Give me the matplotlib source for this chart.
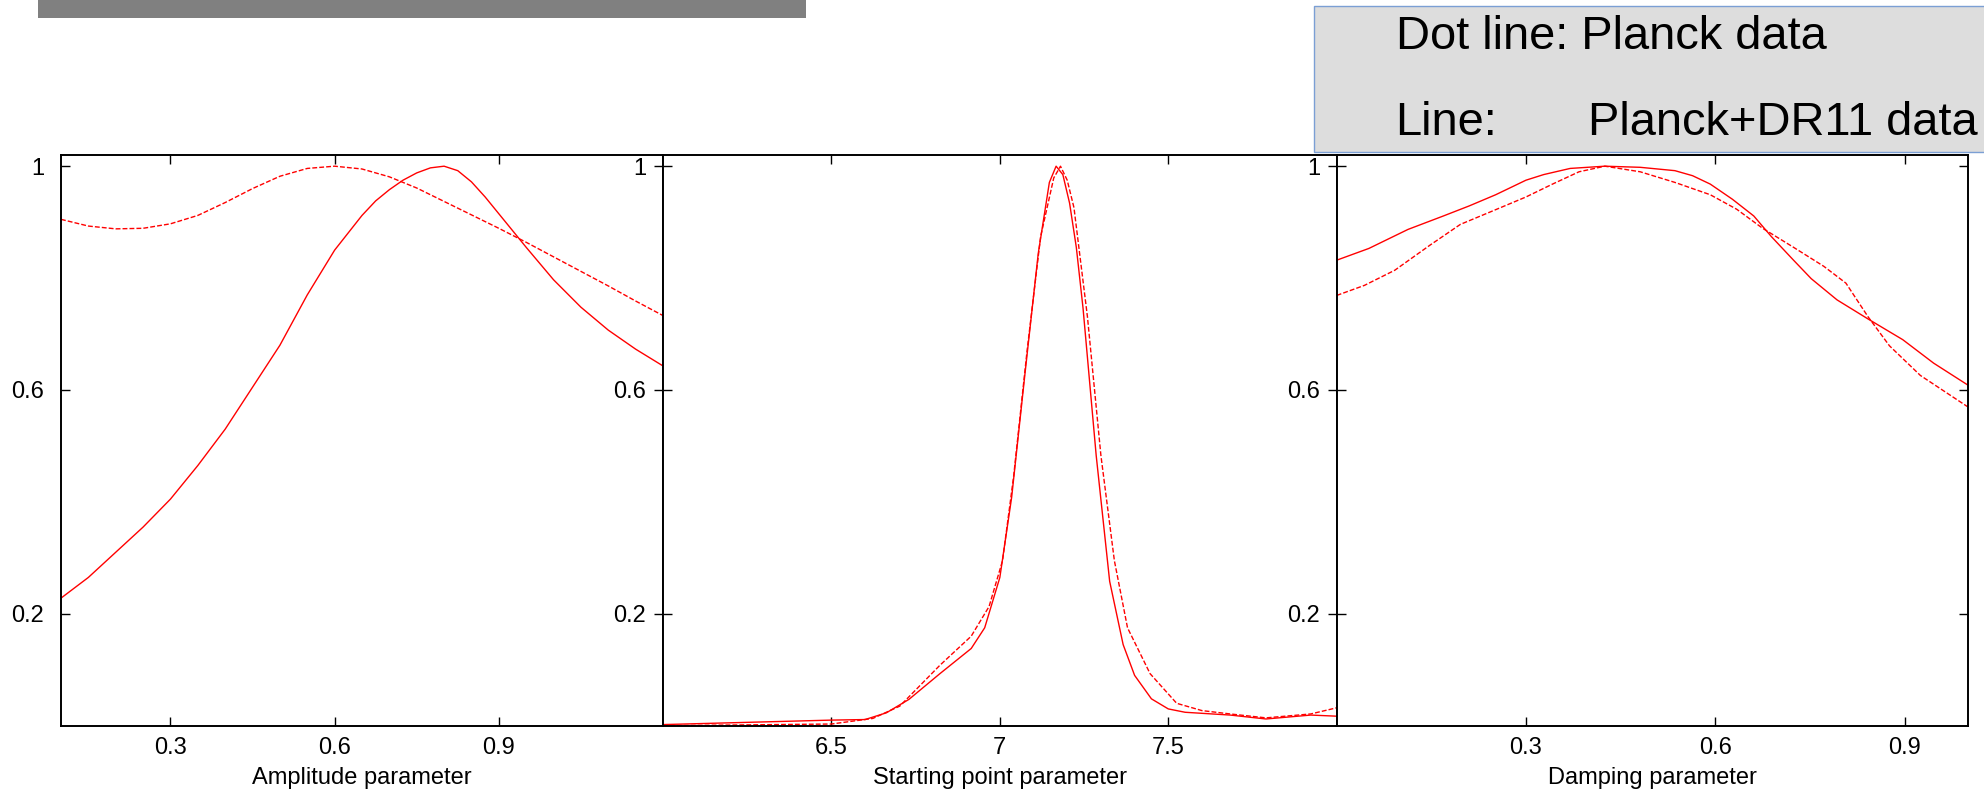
import matplotlib
matplotlib.use("Agg")
import matplotlib.pyplot as plt
from matplotlib.patches import Rectangle

plt.rcParams['font.family'] = ['Liberation Sans', 'DejaVu Sans']

# amplitude parameter
amp_dr11_x = [0.10, 0.15, 0.20, 0.25, 0.30, 0.35, 0.40, 0.45, 0.50, 0.55, 0.60, 0.65, 0.675, 0.70,
              0.725, 0.75, 0.775, 0.80, 0.825, 0.85, 0.875, 0.90, 0.925, 0.95, 1.00, 1.05, 1.10,
              1.15, 1.20]
amp_dr11 = [0.228, 0.265, 0.31, 0.355, 0.405, 0.465, 0.53, 0.605, 0.68, 0.77, 0.85, 0.912, 0.938,
            0.958, 0.975, 0.988, 0.997, 1.0, 0.992, 0.972, 0.945, 0.915, 0.885, 0.855, 0.797,
            0.748, 0.707, 0.673, 0.643]
amp_planck_x = [0.10, 0.15, 0.20, 0.25, 0.30, 0.35, 0.40, 0.45, 0.50, 0.55, 0.60, 0.65, 0.70,
                0.75, 0.80, 0.85, 0.90, 0.95, 1.00, 1.05, 1.10, 1.15, 1.20]
amp_planck = [0.905, 0.893, 0.888, 0.889, 0.897, 0.912, 0.935, 0.96, 0.982, 0.996, 1.0, 0.995, 0.981,
              0.961, 0.937, 0.913, 0.889, 0.864, 0.838, 0.812, 0.786, 0.759, 0.733]

# starting point parameter
start_dr11_x = [6.0, 6.5, 6.6, 6.663, 6.73, 6.822, 6.915, 6.955, 7.0, 7.035, 7.074, 7.114, 7.147,
                7.167, 7.187, 7.207, 7.227, 7.247, 7.286, 7.326, 7.366, 7.40, 7.45, 7.5, 7.55,
                7.684, 7.79, 7.923, 8.0]
start_dr11 = [0.002, 0.01, 0.011, 0.023, 0.047, 0.093, 0.138, 0.175, 0.265, 0.408, 0.626, 0.844,
              0.971, 1.0, 0.985, 0.934, 0.855, 0.746, 0.483, 0.258, 0.145, 0.09, 0.048, 0.03,
              0.024, 0.019, 0.012, 0.019, 0.017]
start_planck_x = [6.0, 6.5, 6.623, 6.703, 6.822, 6.915, 6.968, 7.008, 7.041, 7.081, 7.121, 7.16,
                  7.18, 7.20, 7.22, 7.26, 7.30, 7.34, 7.379, 7.446, 7.525, 7.60, 7.684, 7.79,
                  7.923, 8.0]
start_planck = [0.0, 0.003, 0.013, 0.035, 0.108, 0.16, 0.213, 0.295, 0.446, 0.671, 0.874, 0.979,
                1.0, 0.975, 0.926, 0.731, 0.483, 0.295, 0.175, 0.093, 0.04, 0.027, 0.021, 0.014,
                0.021, 0.032]

# damping parameter
damp_dr11_x = [0.0, 0.051, 0.113, 0.169, 0.21, 0.252, 0.30, 0.328, 0.37, 0.425, 0.481, 0.536,
               0.564, 0.592, 0.627, 0.661, 0.689, 0.724, 0.752, 0.793, 0.842, 0.897, 0.946, 1.0]
damp_dr11 = [0.832, 0.853, 0.887, 0.911, 0.929, 0.949, 0.975, 0.985, 0.996, 1.0, 0.998, 0.992,
             0.983, 0.968, 0.941, 0.911, 0.874, 0.832, 0.799, 0.761, 0.727, 0.69, 0.648, 0.609]
damp_planck_x = [0.0, 0.044, 0.092, 0.148, 0.196, 0.245, 0.30, 0.342, 0.384, 0.425, 0.481, 0.536,
                 0.592, 0.634, 0.675, 0.724, 0.772, 0.807, 0.842, 0.876, 0.925, 1.0]
damp_planck = [0.769, 0.787, 0.814, 0.859, 0.896, 0.919, 0.945, 0.968, 0.99, 1.0, 0.99, 0.971,
               0.949, 0.923, 0.889, 0.855, 0.821, 0.791, 0.731, 0.679, 0.626, 0.57]

panels = [
    ("Amplitude parameter", (0.1, 1.2), [0.3, 0.6, 0.9], ["0.3", "0.6", "0.9"],
     amp_dr11_x, amp_dr11, amp_planck_x, amp_planck),
    ("Starting point parameter", (6.0, 8.0), [6.5, 7.0, 7.5], ["6.5", "7", "7.5"],
     start_dr11_x, start_dr11, start_planck_x, start_planck),
    ("Damping parameter", (0.0, 1.0), [0.3, 0.6, 0.9], ["0.3", "0.6", "0.9"],
     damp_dr11_x, damp_dr11, damp_planck_x, damp_planck),
]
y_ticks = [1.0, 0.6, 0.2]
y_labels = ["1", "0.6", "0.2"]

W, H = 1984, 800
edges = [61, 663, 1336.7, 1967.7]
top, bottom = 155, 725.7

fig = plt.figure(figsize=(W / 100, H / 100), dpi=100)

for i, (xlab, xlim, xt, xtl, sx, sy, dx, dy) in enumerate(panels):
    l, r = edges[i], edges[i + 1]
    ax = fig.add_axes([l / W, 1 - bottom / H, (r - l) / W, (bottom - top) / H])
    ax.plot(sx, sy, color='red', lw=1.0)
    ax.plot(dx, dy, color='red', lw=1.0, dashes=(3.5, 1.5))
    ax.set_xlim(*xlim)
    ax.set_ylim(0, 1.02)
    ax.set_xticks(xt)
    ax.set_xticklabels(xtl)
    ax.set_yticks(y_ticks)
    ax.set_yticklabels(y_labels)
    ax.tick_params(direction='in', length=6.5, width=1.0, top=True, right=True,
                   labelsize=17, color='black')
    ax.tick_params(axis='x', pad=8)
    ax.tick_params(axis='y', pad=12)
    for s in ax.spines.values():
        s.set_linewidth(1.4)
    ax.set_xlabel(xlab, fontsize=17, labelpad=6)

# grey bar at the top left
fig.patches.append(Rectangle((38 / W, 1 - 17.7 / H), (806 - 38) / W, 17.7 / H,
                             transform=fig.transFigure, facecolor='#808080', edgecolor='none'))

# key box at the top right
fig.patches.append(Rectangle((1314 / W, 1 - 152.3 / H), (1995 - 1314) / W, (152.3 - 5.7) / H,
                             transform=fig.transFigure, facecolor='#dddddd',
                             edgecolor='#7b9fd4', lw=1.0))
fig.text(1395.6 / W, 1 - 49.3 / H, "Dot line: Planck data", fontsize=33.8, va='baseline')
fig.text(1395.6 / W, 1 - 135 / H, "Line:", fontsize=33.8, va='baseline')
fig.text(1588 / W, 1 - 135 / H, "Planck+DR11 data", fontsize=33.8, va='baseline')

fig.savefig("out.png", dpi=100)
